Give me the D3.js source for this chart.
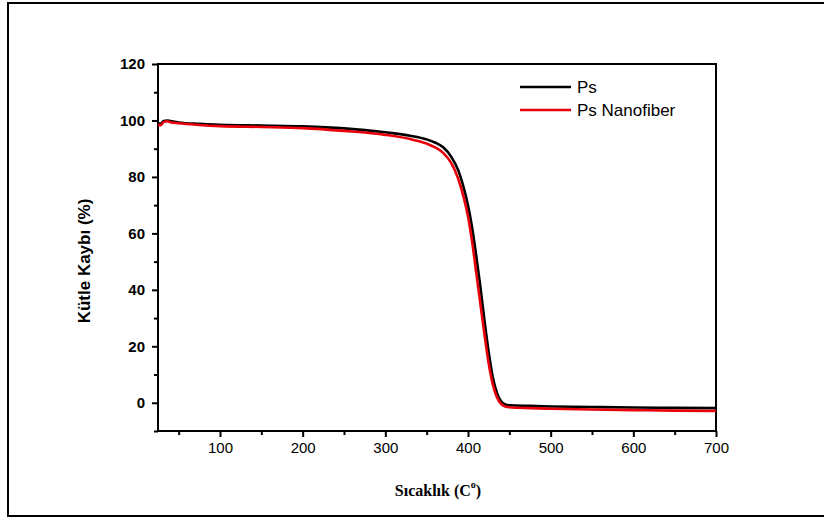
<!DOCTYPE html>
<html><head><meta charset="utf-8">
<script src="https://cdn.jsdelivr.net/npm/d3@7"></script>
<style>html,body{margin:0;padding:0;background:#fff;}svg{display:block;}</style>
</head><body>
<svg id="chart" width="824" height="520"></svg>
<script>
const temps = [25, 28, 32, 36, 40, 50, 75, 100, 150, 200, 250, 300, 330, 350, 360, 370, 380, 388, 395, 400, 405, 410, 415, 420, 425, 430, 435, 440, 445, 450, 475, 500, 550, 600, 650, 700];
const psValues = [99.0, 98.8, 99.8, 100.0, 99.8, 99.3, 98.8, 98.5, 98.2, 97.9, 97.2, 95.8, 94.6, 93.3, 92.2, 90.5, 87.0, 82.5, 76, 70, 62, 52, 41, 29, 18, 9, 3.5, 0.5, -0.6, -0.9, -1.1, -1.3, -1.5, -1.7, -1.8, -1.9];
const nanofiberValues = [98.5, 98.3, 99.5, 99.7, 99.4, 99.0, 98.4, 98.0, 97.7, 97.3, 96.3, 94.9, 93.4, 91.8, 90.5, 88.5, 84.8, 79.5, 72.5, 66, 57, 46, 35, 24, 14, 6.5, 2, -0.4, -1.3, -1.6, -1.9, -2.1, -2.4, -2.6, -2.8, -2.9];
const seriesNames = ["Ps", "Ps Nanofiber"];
const seriesColors = ["#000000", "#e8000b"];
const xTicks = [100, 200, 300, 400, 500, 600, 700];
const xMinor = [50, 150, 250, 350, 450, 550, 650];
const yTicks = [0, 20, 40, 60, 80, 100, 120];
const yMinor = [-10, 10, 30, 50, 70, 90, 110];

const svg = d3.select("#chart");
const L = 158, R = 716, T = 64, B = 431;
const x = d3.scaleLinear().domain([25, 700]).range([L, R]);
const y = d3.scaleLinear().domain([-10, 120]).range([B, T]);

// outer frame
svg.append("rect").attr("x", 8).attr("y", 3).attr("width", 840).attr("height", 513)
  .attr("fill", "none").attr("stroke", "#000").attr("stroke-width", 2);

// plot box
svg.append("rect").attr("x", L).attr("y", T).attr("width", R - L).attr("height", B - T)
  .attr("fill", "none").attr("stroke", "#000").attr("stroke-width", 2);

// x axis
const xAxis = svg.append("g").attr("transform", `translate(0,${B})`)
  .call(d3.axisBottom(x).tickValues(xTicks).tickSize(6).tickPadding(5).tickFormat(d3.format("d")));
xAxis.select(".domain").remove();
xAxis.selectAll("line").attr("stroke-width", 2);
xAxis.selectAll("text").attr("font-family", "Liberation Sans, Arial, sans-serif").attr("font-size", 15).attr("fill", "#000");
svg.append("g").attr("transform", `translate(0,${B})`)
  .call(d3.axisBottom(x).tickValues(xMinor).tickSize(4).tickFormat(""))
  .call(g => g.select(".domain").remove())
  .selectAll("line").attr("stroke-width", 2);

// y axis
const yAxis = svg.append("g").attr("transform", `translate(${L},0)`)
  .call(d3.axisLeft(y).tickValues(yTicks).tickSize(6).tickPadding(7).tickFormat(d3.format("d")));
yAxis.select(".domain").remove();
yAxis.selectAll("line").attr("stroke-width", 2);
yAxis.selectAll("text").attr("font-family", "Liberation Sans, Arial, sans-serif").attr("font-size", 15).attr("font-weight", "bold").attr("fill", "#000");
svg.append("g").attr("transform", `translate(${L},0)`)
  .call(d3.axisLeft(y).tickValues(yMinor).tickSize(4).tickFormat(""))
  .call(g => g.select(".domain").remove())
  .selectAll("line").attr("stroke-width", 2);

// lines
const line = vals => d3.line().x((d, i) => x(temps[i])).y(d => y(d)).curve(d3.curveMonotoneX)(vals);
[psValues, nanofiberValues].forEach((vals, k) => {
  svg.append("path").attr("d", line(vals)).attr("fill", "none")
    .attr("stroke", seriesColors[k]).attr("stroke-width", 2.6).attr("stroke-linejoin", "round");
});

// legend
seriesNames.forEach((n, k) => {
  const ly = 87 + k * 23;
  svg.append("line").attr("x1", 520).attr("x2", 571).attr("y1", ly).attr("y2", ly)
    .attr("stroke", seriesColors[k]).attr("stroke-width", 2.6);
  svg.append("text").attr("x", 577).attr("y", ly + 6).text(n)
    .attr("font-family", "Liberation Sans, Arial, sans-serif").attr("font-size", 17).attr("fill", "#000");
});

// axis titles
svg.append("text").attr("transform", `translate(90,261) rotate(-90)`)
  .attr("text-anchor", "middle").attr("font-family", "Liberation Sans, Arial, sans-serif")
  .attr("font-size", 17).attr("font-weight", "bold").text("Kütle Kaybı (%)");

const xt = svg.append("text").attr("x", 438).attr("y", 496).attr("text-anchor", "middle")
  .attr("font-family", "Liberation Serif, Times New Roman, serif").attr("font-size", 16).attr("font-weight", "bold");
xt.append("tspan").text("Sıcaklık (C");
xt.append("tspan").attr("dy", -8).attr("font-size", 10).text("o");
xt.append("tspan").attr("dy", 8).text(")");
</script>
</body></html>
